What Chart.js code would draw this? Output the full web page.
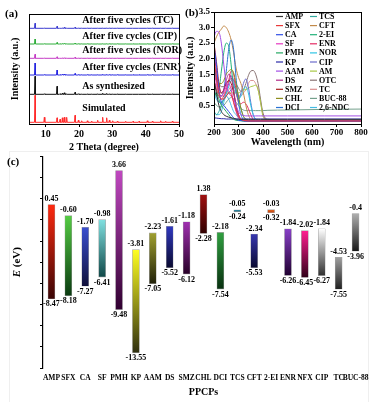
<!DOCTYPE html>
<html>
<head>
<meta charset="utf-8">
<script src="https://cdn.jsdelivr.net/npm/chart.js@4.4.1/dist/chart.umd.min.js"></script>
<style>
  html, body { margin: 0; padding: 0; background: #fff; }
  #wrap { position: relative; width: 378px; height: 402px; overflow: hidden; background: #fff; }
  canvas { position: absolute; }
  .tag { position: absolute; font: bold 11px "Liberation Serif", serif; color: #000; }
  #frameC { position: absolute; left: 9px; top: 151px; width: 358px; height: 270px; border: 1px solid #efefef; }
</style>
</head>
<body>
<div id="wrap">
  <div id="frameC"></div>
  <canvas id="cA" width="190" height="155" style="left:0;top:0"></canvas>
  <canvas id="cB" width="195" height="155" style="left:183px;top:0"></canvas>
  <canvas id="cC" width="378" height="252" style="left:0;top:150px"></canvas>
  <div class="tag" style="left:5px;top:7px">(a)</div>
  <div class="tag" style="left:185px;top:6px">(b)</div>
  <div class="tag" style="left:7px;top:155px">(c)</div>
</div>
<script>
// ---------------- Panel (a) data: XRD ----------------
const xrdNames = ['After five cycles (TC)', 'After five cycles (CIP)', 'After five cycles (NOR)', 'After five cycles (ENR)', 'As synthesized', 'Simulated'];
const xrdColors = ['#3b3bd0', '#2fae3a', '#c53cc5', '#2626e0', '#111111', '#ff2a2a'];
const xrdOffsets = [95.7, 80, 65.7, 49, 29.7, 1.7];
const xrdPeakPos = [6.8, 9.6, 13.4, 14.3, 15.0, 15.6, 16.3, 18.8, 19.8, 20.8, 22.5, 23.8, 25.6, 27.1, 28.3, 29.1, 30.1, 31.5, 34.0, 36.2, 38.0, 40.5, 42.0, 44.5, 46.0, 48.0];
const xrdTC  = [5, 0.2, 2, 0.2, 0.3, 1, 0.2, 1, 0.2, 0.2, 0.2, 0.2, 0.2, 0.3, 0.3, 0.2, 0.2, 0.2, 0.2, 0.2, 0.2, 0.2, 0.2, 0.2, 0.2, 0.2];
const xrdCIP = [5, 0.2, 1.5, 0.2, 0.3, 0.5, 0.2, 1, 0.2, 0.2, 0.2, 0.2, 0.2, 0.3, 0.3, 0.2, 0.2, 0.2, 0.2, 0.2, 0.2, 0.2, 0.2, 0.2, 0.2, 0.2];
const xrdNOR = [4, 0.2, 1.5, 0.2, 0.3, 0.5, 0.2, 1, 0.2, 0.2, 0.2, 0.2, 0.2, 0.3, 0.3, 0.2, 0.2, 0.2, 0.2, 0.2, 0.2, 0.2, 0.2, 0.2, 0.2, 0.2];
const xrdENR = [12, 0.3, 5, 0.3, 0.6, 1, 0.3, 1.5, 0.3, 0.3, 0.3, 0.3, 0.3, 0.6, 0.5, 0.3, 0.3, 0.3, 0.3, 0.3, 0.3, 0.3, 0.3, 0.3, 0.3, 0.3];
const xrdAS  = [18, 0.5, 8, 0.5, 1, 1.5, 0.5, 2, 0.5, 0.3, 0.3, 0.3, 0.5, 1, 0.8, 0.3, 0.3, 0.3, 0.3, 0.3, 0.3, 0.3, 0.3, 0.3, 0.3, 0.3];
const xrdSim = [27, 5, 4.5, 3, 4.5, 5, 5, 7, 2, 1.5, 1.5, 1.2, 2, 5, 4.5, 2, 1.5, 1, 1, 1, 1, 1.5, 1, 1.5, 1, 1];
const xrdHeights = [xrdTC, xrdCIP, xrdNOR, xrdENR, xrdAS, xrdSim];
const xrdTicks = [10, 20, 30, 40, 50];

// ---------------- Panel (b) data: UV-vis ----------------
const wavelengths = [200,210,220,230,240,250,260,270,280,290,300,310,320,330,340,350,360,370,380,390,400,420,500,650,800];
const uvAMP  = [1.30,0.90,0.50,0.30,0.20,0.15,0.12,0.10,0.08,0.06,0.05,0.05,0.05,0.05,0.05,0.05,0.05,0.05,0.05,0.05,0.05,0.05,0.05,0.05,0.05];
const uvSFX  = [2.00,1.40,0.90,0.70,0.70,0.80,0.90,0.85,0.60,0.35,0.15,0.05,0.02,0.01,0,0,0,0,0,0,0,0,0,0,0];
const uvCA   = [2.40,1.80,1.00,0.60,0.50,0.40,0.30,0.20,0.10,0.05,0.02,0.01,0,0,0,0,0,0,0,0,0,0,0,0,0];
const uvSF   = [1.60,1.20,0.90,0.80,0.90,1.10,1.20,1.00,0.60,0.30,0.10,0.05,0.02,0,0,0,0,0,0,0,0,0,0,0,0];
const uvPMH  = [0.80,0.90,0.70,0.50,0.40,0.30,0.20,0.10,0.05,0.02,0.01,0,0,0,0,0,0,0,0,0,0,0,0,0,0];
const uvKP   = [0.10,0.09,0.08,0.07,0.07,0.06,0.06,0.06,0.06,0.06,0.06,0.06,0.06,0.06,0.06,0.06,0.06,0.06,0.06,0.06,0.06,0.06,0.06,0.06,0.06];
const uvAAM  = [2.70,2.88,2.85,2.50,1.80,1.20,0.90,0.80,0.70,0.50,0.30,0.20,0.17,0.16,0.16,0.16,0.16,0.16,0.16,0.16,0.16,0.16,0.16,0.16,0.16];
const uvDS   = [2.20,1.60,1.10,0.90,1.00,1.30,1.50,1.40,1.00,0.50,0.20,0.05,0.01,0,0,0,0,0,0,0,0,0,0,0,0];
const uvSMZ  = [2.50,1.90,1.20,0.90,1.00,1.20,1.30,1.20,0.90,0.50,0.20,0.05,0.01,0,0,0,0,0,0,0,0,0,0,0,0];
const uvCHL  = [1.50,1.30,1.20,1.20,1.30,1.50,1.60,1.65,1.55,1.20,0.80,0.40,0.15,0.05,0.01,0,0,0,0,0,0,0,0,0,0];
const uvDCI  = [1.90,1.30,0.90,0.80,1.00,1.60,2.30,2.60,2.30,1.40,0.60,0.20,0.05,0.01,0,0,0,0,0,0,0,0,0,0,0];
const uvTCS  = [0.30,0.20,0.30,0.50,0.70,0.80,0.90,1.00,1.10,1.00,0.70,0.40,0.15,0.05,0.01,0,0,0,0,0,0,0,0,0,0];
const uvCFT  = [2.50,2.70,2.85,2.95,3.05,3.00,2.85,2.60,2.20,1.70,1.40,1.20,0.90,0.50,0.20,0.05,0.01,0,0,0,0,0,0,0,0];
const uv2EI  = [1.00,0.80,1.00,1.60,2.20,2.50,2.40,1.80,1.00,0.40,0.10,0.02,0,0,0,0,0,0,0,0,0,0,0,0,0];
const uvENR  = [1.30,1.00,0.80,0.70,0.80,1.00,1.30,1.60,1.50,1.00,0.60,0.55,0.60,0.55,0.40,0.20,0.05,0.01,0,0,0,0,0,0,0];
const uvNOR  = [0.90,0.70,0.60,0.60,0.70,0.90,1.10,1.30,1.20,0.90,0.70,0.80,1.00,1.10,0.90,0.50,0.20,0.05,0.01,0,0,0,0,0,0];
const uvCIP  = [1.00,0.80,0.60,0.60,0.70,0.90,1.20,1.45,1.30,0.90,0.70,0.90,1.20,1.35,1.10,0.60,0.20,0.05,0.01,0,0,0,0,0,0];
const uvAM   = [1.20,1.00,0.90,0.90,0.90,0.90,0.90,0.90,0.90,0.90,0.90,0.95,1.00,1.00,1.05,1.10,1.12,1.15,1.00,0.60,0.15,0.02,0,0,0];
const uvOTC  = [1.70,1.40,1.20,1.10,1.10,1.20,1.30,1.35,1.30,1.20,1.05,0.95,1.00,1.20,1.45,1.60,1.62,1.50,1.20,0.70,0.25,0.05,0.02,0.02,0.02];
const uvTC   = [1.30,1.10,0.90,0.80,0.80,0.90,1.00,1.10,1.00,0.90,0.80,0.80,0.90,1.00,1.20,1.30,1.30,1.20,1.00,0.60,0.20,0.03,0,0,0];
const uvBUC  = [0.60,0.50,0.45,0.45,0.50,0.60,0.70,0.75,0.70,0.60,0.50,0.40,0.35,0.33,0.33,0.33,0.33,0.33,0.33,0.33,0.33,0.34,0.35,0.37,0.38];
const uvNDC  = [0.30,0.20,0.20,0.30,0.60,0.80,0.70,0.50,0.30,0.20,0.10,0.05,0.02,0,0,0,0,0,0,0,0,0,0,0,0];
const uvNames  = ['AMP','SFX','CA','SF','PMH','KP','AAM','DS','SMZ','CHL','DCI','TCS','CFT','2-EI','ENR','NOR','CIP','AM','OTC','TC','BUC-88','2,6-NDC'];
const uvSeries = [uvAMP,uvSFX,uvCA,uvSF,uvPMH,uvKP,uvAAM,uvDS,uvSMZ,uvCHL,uvDCI,uvTCS,uvCFT,uv2EI,uvENR,uvNOR,uvCIP,uvAM,uvOTC,uvTC,uvBUC,uvNDC];
const uvColors = ['#333333','#e83a3a','#2f4fe6','#e536c0','#25a862','#2a2aa8','#a24fe6','#b02a8a','#a81c1c','#8e8e1e','#2a72d4',
                  '#33aaa0','#c28a4a','#22b27a','#e42a62','#2ec4e4','#6a6acc','#a8c844','#8a7474','#d88c8c','#74a08c','#44bce4'];

// ---------------- Panel (c) data: band edges ----------------
const ppcps   = ['AMP','SFX','CA','SF','PMH','KP','AAM','DS','SMZ','CHL','DCI','TCS','CFT','2-EI','ENR','NFX','CIP','TC','BUC-88'];
const eTop    = [0.45,-0.60,-1.70,-0.98,3.66,-3.81,-2.23,-1.61,-1.18,1.38,-2.18,-0.05,-2.34,-0.03,-1.84,-2.02,-1.84,-4.53,-0.4];
const eBottom = [-8.47,-8.18,-7.27,-6.41,-9.48,-13.55,-7.05,-5.52,-6.12,-2.28,-7.54,-0.24,-5.53,-0.32,-6.26,-6.45,-6.27,-7.55,-3.96];
const gradTop = ['#ff2a10','#55cc44','#3a4fd0','#80e0e0','#c048c0','#ffff20','#a0a030','#3038c0','#a030b0','#a01010','#30a040','#3090b0','#3838b0','#e06820','#8840c8','#ff2090','#ffffff','#a0a0a0','#b0b0b0'];
const gradBot = ['#3a0505','#0a3a10','#10103a','#104848','#300030','#303010','#202008','#0a0a30','#280028','#300000','#083010','#206070','#0a0a30','#c04010','#200030','#300018','#303030','#202020','#181818'];

// ---------------- common ----------------
const SERIF = '"Liberation Serif", "Times New Roman", serif';
Chart.defaults.font.family = SERIF;
Chart.defaults.font.weight = 'bold';
Chart.defaults.color = '#000';
Chart.defaults.animation = false;

const framePlugin = {
  id: 'frame',
  afterDraw(chart) {
    const a = chart.chartArea, ctx = chart.ctx;
    ctx.save(); ctx.strokeStyle = '#000'; ctx.lineWidth = 1;
    ctx.strokeRect(Math.round(a.left) + 0.5, Math.round(a.top) + 0.5, Math.round(a.right - a.left), Math.round(a.bottom - a.top));
    ctx.restore();
  }
};

// ---------------- Chart A ----------------
function xrdData(k) {
  const base = xrdOffsets[k], h = xrdHeights[k];
  const pts = [{x: 5, y: base}];
  xrdPeakPos.forEach((p, i) => {
    pts.push({x: p - 0.15, y: base}, {x: p, y: base + h[i]}, {x: p + 0.15, y: base});
  });
  pts.push({x: 50, y: base});
  return pts;
}
const xrdLabelPlugin = {
  id: 'xrdLabels',
  afterDraw(chart) {
    const ctx = chart.ctx, xs = chart.scales.x, ys = chart.scales.y;
    ctx.save(); ctx.font = 'bold 10px ' + SERIF; ctx.fillStyle = '#000'; ctx.textBaseline = 'bottom';
    xrdNames.forEach((n, k) => {
      const lift = k === 5 ? 9 : 3;
      ctx.fillText(n, xs.getPixelForValue(21), ys.getPixelForValue(xrdOffsets[k] + lift));
    });
    ctx.restore();
  }
};
new Chart(document.getElementById('cA'), {
  type: 'line',
  data: { datasets: xrdNames.map((n, k) => ({ label: n, data: xrdData(k), borderColor: xrdColors[k], borderWidth: 1, pointRadius: 0, tension: 0 })) },
  options: {
    responsive: false, parsing: true,
    layout: { padding: { top: 14, right: 11, left: 0, bottom: 0 } },
    plugins: { legend: { display: false }, tooltip: { enabled: false } },
    scales: {
      x: { type: 'linear', min: 5, max: 50,
        afterBuildTicks: s => { s.ticks = xrdTicks.map(v => ({ value: v })); },
        afterFit: s => { s.height = 31; },
        grid: { drawOnChartArea: false, tickLength: 3, color: '#000' }, border: { color: '#000' },
        ticks: { padding: 1, font: { size: 10, weight: 'bold' }, maxRotation: 0 },
        title: { display: true, text: '2 Theta (degree)', font: { size: 10, weight: 'bold' }, padding: { top: 0, bottom: 2 } } },
      y: { min: 0, max: 110,
        afterFit: s => { s.width = 29; },
        grid: { display: false }, border: { display: false }, ticks: { display: false },
        title: { display: true, text: 'Intensity (a.u.)', font: { size: 10, weight: 'bold' }, padding: { top: 9, bottom: 0 } } }
    }
  },
  plugins: [framePlugin, xrdLabelPlugin]
});

// ---------------- Chart B ----------------
const uvLegendPlugin = {
  id: 'uvLegend',
  afterDraw(chart) {
    const ctx = chart.ctx;
    ctx.save(); ctx.font = 'bold 8px ' + SERIF; ctx.textBaseline = 'middle'; ctx.fillStyle = '#000';
    uvNames.forEach((n, i) => {
      const col = i < 11 ? 0 : 1, row = i % 11;
      const lx = col === 0 ? 93 : 127, y = 16.5 + row * 9.1;
      ctx.strokeStyle = uvColors[i]; ctx.lineWidth = 1.2;
      ctx.beginPath(); ctx.moveTo(lx, y); ctx.lineTo(lx + 7, y); ctx.stroke();
      ctx.fillText(n, lx + 9, y + 0.5);
    });
    ctx.restore();
  }
};
new Chart(document.getElementById('cB'), {
  type: 'line',
  data: { labels: wavelengths,
    datasets: uvNames.map((n, i) => ({ label: n, data: uvSeries[i].map((v, j) => ({ x: wavelengths[j], y: v })),
      borderColor: uvColors[i], borderWidth: 1, pointRadius: 0, cubicInterpolationMode: 'monotone' })) },
  options: {
    responsive: false,
    layout: { padding: { top: 12, right: 17, left: 0, bottom: 0 } },
    plugins: { legend: { display: false }, tooltip: { enabled: false } },
    scales: {
      x: { type: 'linear', min: 200, max: 800,
        ticks: { stepSize: 100, padding: 0, font: { size: 9, weight: 'bold' }, maxRotation: 0 },
        afterFit: s => { s.height = 31; },
        grid: { drawOnChartArea: false, tickLength: 3, color: '#000' }, border: { color: '#000' },
        title: { display: true, text: 'Wavelength (nm)', font: { size: 10, weight: 'bold' }, padding: { top: 0, bottom: 7 } } },
      y: { min: -0.1, max: 3.5,
        afterBuildTicks: s => { s.ticks = s.ticks.filter(t => Math.abs(t.value * 2 - Math.round(t.value * 2)) < 1e-6); },
        afterFit: s => { s.width = 31; },
        ticks: { stepSize: 0.5, padding: 1, font: { size: 9, weight: 'bold' }, callback: v => Number(v).toFixed(1) },
        grid: { drawOnChartArea: false, tickLength: 3, color: '#000' }, border: { color: '#000' },
        title: { display: true, text: 'Intensity (a.u.)', font: { size: 10, weight: 'bold' }, padding: { top: 1, bottom: 0 } } }
    }
  },
  plugins: [framePlugin, uvLegendPlugin]
});

// ---------------- Chart C ----------------
const topLabels = eTop.map((v, i) => ppcps[i] === 'BUC-88' ? String(v) : v.toFixed(2));
const botLabels = eBottom.map(v => v.toFixed(2));
const bandLabelPlugin = {
  id: 'bandLabels',
  afterDatasetsDraw(chart) {
    const ctx = chart.ctx, ys = chart.scales.y, meta = chart.getDatasetMeta(0);
    ctx.save(); ctx.font = 'bold 8px ' + SERIF; ctx.fillStyle = '#000'; ctx.textAlign = 'center';
    meta.data.forEach((bar, i) => {
      ctx.textBaseline = 'bottom';
      ctx.fillText(topLabels[i], bar.x, ys.getPixelForValue(eTop[i]) - 1.5);
      ctx.textBaseline = 'top';
      ctx.fillText(botLabels[i], bar.x, ys.getPixelForValue(eBottom[i]) + 1.5);
    });
    // y title with italic E
    const a = chart.chartArea, cy = (a.top + a.bottom) / 2;
    ctx.translate(17.5, cy); ctx.rotate(-Math.PI / 2);
    ctx.textBaseline = 'middle'; ctx.textAlign = 'left';
    ctx.font = 'italic bold 11px ' + SERIF; const w1 = ctx.measureText('E').width;
    ctx.font = 'bold 11px ' + SERIF; const w2 = ctx.measureText(' (eV)').width;
    const x0 = -(w1 + w2) / 2;
    ctx.font = 'italic bold 11px ' + SERIF; ctx.fillText('E', x0, 0);
    ctx.font = 'bold 11px ' + SERIF; ctx.fillText(' (eV)', x0 + w1, 0);
    ctx.restore();
  }
};
new Chart(document.getElementById('cC'), {
  type: 'bar',
  data: { labels: ppcps,
    datasets: [{ label: 'E', data: eTop.map((t, i) => [eBottom[i], t]), barThickness: 7,
      borderWidth: 0.6, borderColor: 'rgba(0,0,0,0.35)', borderSkipped: false,
      backgroundColor: (c) => {
        const ch = c.chart, i = c.dataIndex;
        if (!ch.chartArea || i === undefined) return gradTop[i] || '#888';
        const ys = ch.scales.y;
        const g = ch.ctx.createLinearGradient(0, ys.getPixelForValue(eTop[i]), 0, ys.getPixelForValue(eBottom[i]));
        g.addColorStop(0, gradTop[i]); g.addColorStop(1, gradBot[i]);
        return g;
      } }] },
  options: {
    responsive: false,
    layout: { padding: { top: 6, right: 14, left: 0, bottom: 0 } },
    plugins: { legend: { display: false }, tooltip: { enabled: false } },
    scales: {
      x: { afterFit: s => { s.height = 34; },
        grid: { display: false, drawTicks: false }, border: { display: false },
        ticks: { autoSkip: false, maxRotation: 0, minRotation: 0, padding: 6, font: { size: 7.5, weight: 'bold' } },
        title: { display: true, text: 'PPCPs', font: { size: 10, weight: 'bold' }, padding: { top: 0, bottom: 4 } } },
      y: { min: -15, max: 5,
        afterFit: s => { s.width = 43; },
        ticks: { stepSize: 1, padding: 1, font: { size: 9, weight: 'bold' }, callback: v => (Math.round(v) % 2 === 0 ? String(v) : '') },
        grid: { drawOnChartArea: false, tickLength: 3, color: '#000', lineWidth: 1 }, border: { color: '#000', width: 1.2 } }
    }
  },
  plugins: [bandLabelPlugin]
});
</script>
</body>
</html>
